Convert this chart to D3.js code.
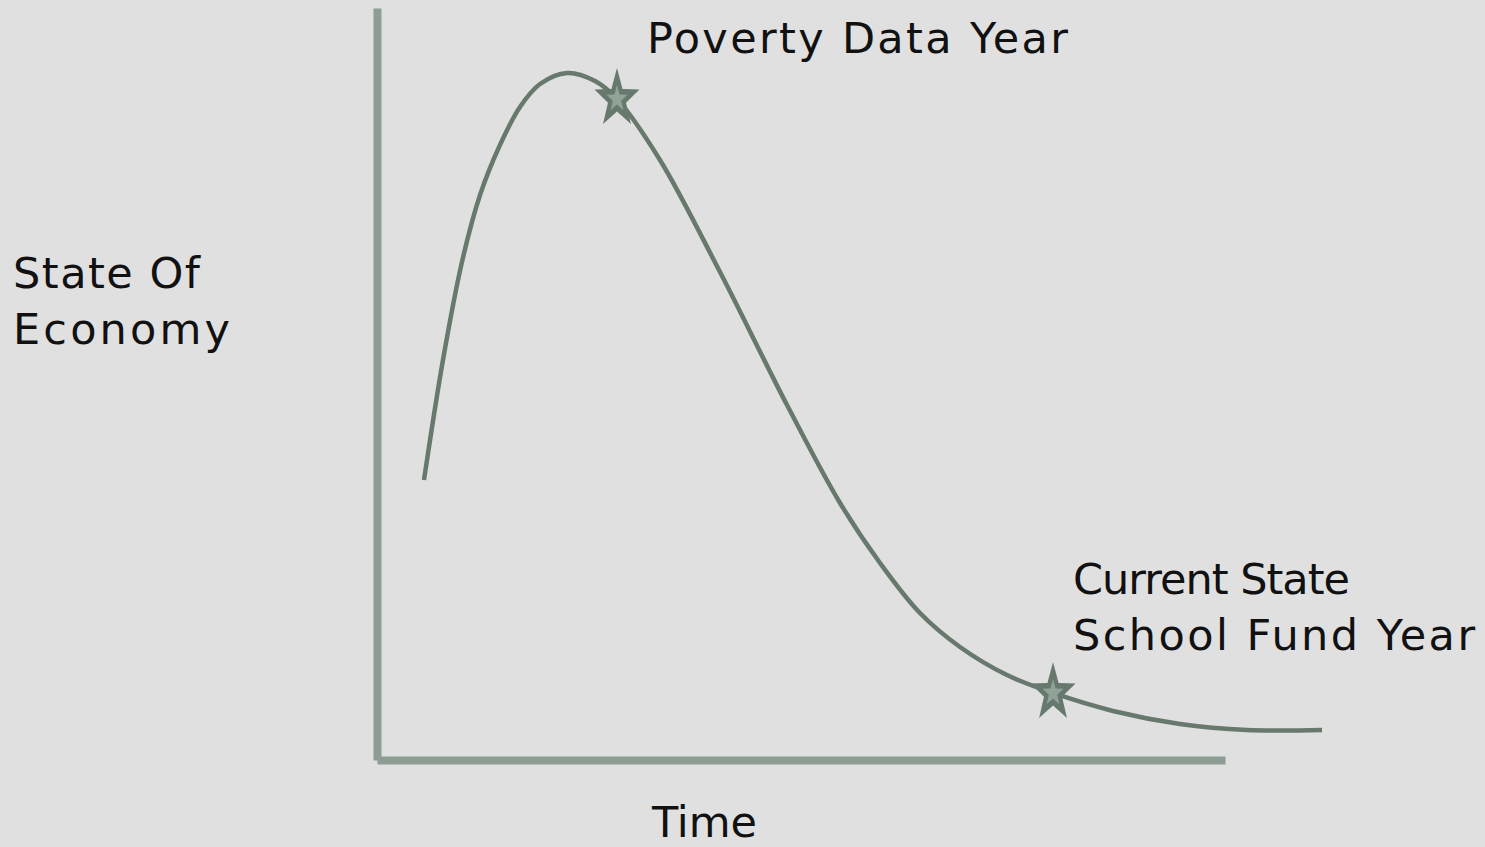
<!DOCTYPE html>
<html>
<head>
<meta charset="utf-8">
<script src="https://cdn.jsdelivr.net/npm/d3@7"></script>
<style>
  html, body { margin: 0; padding: 0; background: #e0e0e0; }
  svg { display: block; }
</style>
</head>
<body>
<svg id="chart" width="1485" height="847"></svg>
<script>
// ---- data (time 0..100 along the x axis, economy 0..100 along the y axis) ----
const timeValues    = [5.54, 7.78, 10.02, 12.15, 14.50, 16.86, 19.22, 22.41, 25.71, 28.30, 33.37, 40.45, 48.35, 54.60, 59.32, 64.03, 68.75, 74.29, 79.72, 86.79, 94.69, 102.59, 111.44];
const economyValues = [37.23, 53.19, 66.22, 75.13, 81.78, 86.84, 89.89, 91.36, 90.29, 87.90, 79.79, 64.89, 47.21, 34.18, 26.20, 19.55, 15.03, 11.30, 8.91, 6.52, 4.79, 3.99, 3.99];
const markerIndex   = [9, 18];
const markerLabels  = [["Poverty Data Year"], ["Current State", "School Fund Year"]];
const yAxisLabel    = ["State Of", "Economy"];
const xAxisLabel    = ["Time"];

const svg = d3.select("#chart");
const W = 1485, H = 847;

svg.append("rect").attr("width", W).attr("height", H).attr("fill", "#e0e0e0");

const x = d3.scaleLinear().domain([0, 100]).range([377, 1225]);
const y = d3.scaleLinear().domain([0, 100]).range([760, 8]);

const axisColor = "#8c9e93";
const lineColor = "#67786d";

// axes (no ticks)
const gx = svg.append("g").attr("transform", `translate(0,${y(0)})`)
  .call(d3.axisBottom(x).ticks(0).tickSize(0).tickSizeOuter(0));
const gy = svg.append("g").attr("transform", `translate(${x(0)},0)`)
  .call(d3.axisLeft(y).ticks(0).tickSize(0).tickSizeOuter(0));
[gx, gy].forEach(g => {
  g.select(".domain").attr("stroke", axisColor).attr("stroke-width", 8).attr("fill", "none");
  g.selectAll("text").remove();
});

// curve
const pts = timeValues.map((t, i) => [t, economyValues[i]]);
const line = d3.line().x(d => x(d[0])).y(d => y(d[1])).curve(d3.curveCatmullRom.alpha(0.5));
svg.append("path").datum(pts)
  .attr("d", line)
  .attr("fill", "none")
  .attr("stroke", lineColor)
  .attr("stroke-width", 4.5)
  .attr("stroke-linecap", "butt");

// star markers
function starPath(rx, ry, innerRatio) {
  const p = [];
  for (let k = 0; k < 10; k++) {
    const a = -Math.PI / 2 + k * Math.PI / 5;
    const r = k % 2 === 0 ? 1 : innerRatio;
    p.push([Math.cos(a) * r * rx, Math.sin(a) * r * ry]);
  }
  return "M" + p.map(d => d[0].toFixed(2) + "," + d[1].toFixed(2)).join("L") + "Z";
}
const stars = svg.selectAll("g.star").data(markerIndex).join("g")
  .attr("class", "star")
  .attr("transform", i => `translate(${x(timeValues[i])},${y(economyValues[i])})`);
stars.append("path").attr("d", starPath(23.7, 31, 0.40)).attr("fill", lineColor);
stars.append("path").attr("d", starPath(11, 14, 0.40)).attr("fill", "#91a298");

// text: uniform size, letter-spacing tuned to match the reference widths
const font = "'DejaVu Sans', sans-serif";
const fs = 43;
function addText(lines, x0, baselines, targetWidths) {
  lines.forEach((t, i) => {
    const el = svg.append("text")
      .attr("x", x0).attr("y", baselines[i])
      .attr("font-family", font).attr("font-size", fs)
      .attr("fill", "#111").text(t);
    const w = el.node().getComputedTextLength();
    const ls = (targetWidths[i] - w) / Math.max(1, t.length - 1);
    el.attr("letter-spacing", ls.toFixed(2));
  });
}
addText(markerLabels[0], 647, [53], [421]);
addText(markerLabels[1], 1073, [594, 650], [277, 402]);
addText(yAxisLabel, 13, [288, 344], [187, 217]);
addText(xAxisLabel, 652, [837], [105]);
</script>
</body>
</html>
